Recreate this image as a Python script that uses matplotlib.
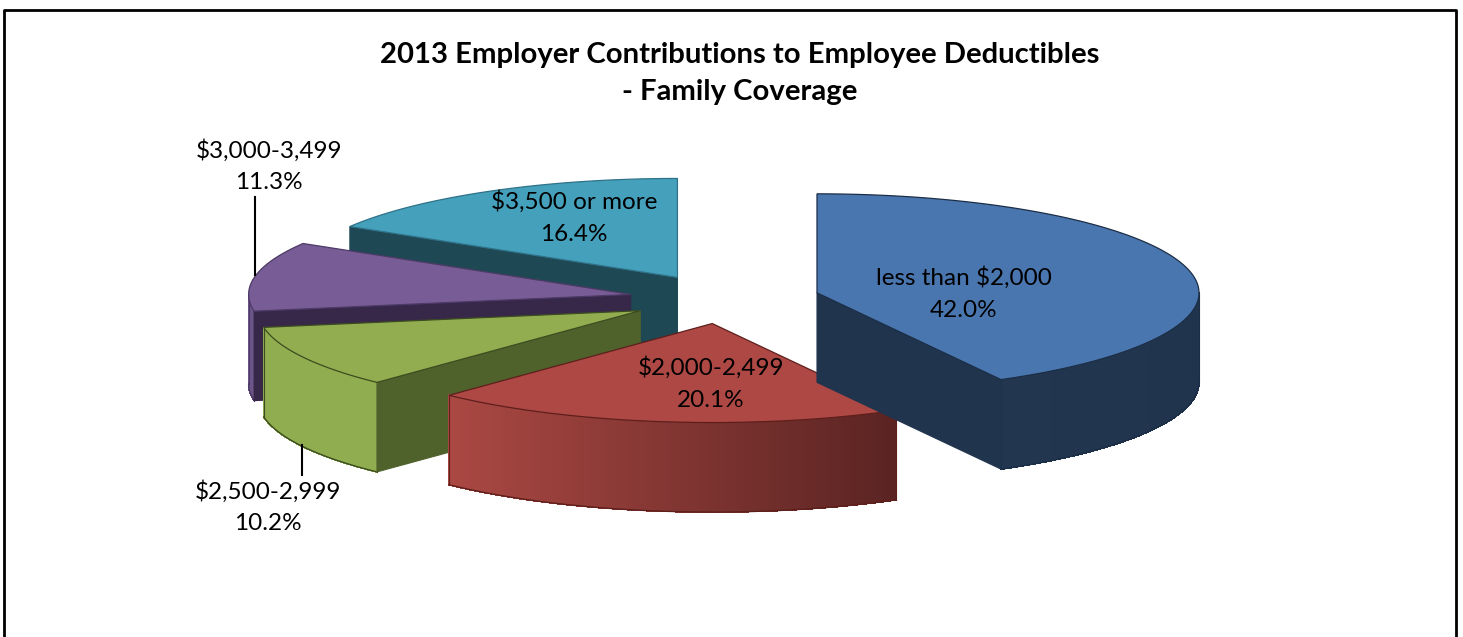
import numpy as np
import matplotlib
matplotlib.use("Agg")
import matplotlib.pyplot as plt
from matplotlib.colors import to_rgb
from matplotlib.patches import Polygon

WIDTH, HEIGHT = 1463, 637

TITLE = "2013 Employer Contributions to Employee Deductibles\n- Family Coverage"
categories = ["less than $2,000", "$2,000-2,499", "$2,500-2,999", "$3,000-3,499", "$3,500 or more"]
shares = [42.0, 20.1, 10.2, 11.3, 16.4]

top_colors = ["#4a76b0", "#ae4844", "#91ad50", "#785c96", "#45a0bc"]
face_colors = ["#20344e", "#5a2422", "#4f622c", "#37284a", "#1f4855"]
# rim colour at start and end of each slice (clockwise)
rim_start = ["#20344e", "#5a2422", "#90ad50", "#6c5589", "#1f4855"]
rim_end = ["#223650", "#ab4843", "#90ad50", "#6c5589", "#1f4855"]
edge_colors = ["#1c2e46", "#5e1f1c", "#3c4c20", "#4d3a66", "#2f7288"]

# pie geometry in pixels
CX, CY = 724.5, 299.0
RX, RY = 382.0, 99.0
DEPTH = 89.5
EXPLODE = 0.25

# label centres in pixels
label_pos = [(964, 293.5), (711, 383.5), (268, 507), (269, 166), (574, 217.5)]
leaders = {2: (302, 445, 475), 3: (255, 197, 275)}


def arc(x0, y0, a0, a1):
    t = np.radians(np.linspace(a0, a1, max(int(abs(a1 - a0)) * 2, 2)))
    return x0 + RX * np.sin(t), y0 - RY * np.cos(t)


def draw_slice(ax, i, a0, a1):
    mid = np.radians((a0 + a1) / 2)
    x0 = CX + EXPLODE * RX * np.sin(mid)
    y0 = CY - EXPLODE * RY * np.cos(mid)
    z = 2
    edge = edge_colors[i]

    # outer rim, only the part turned to the viewer
    lo, hi = max(a0, 90), min(a1, 270)
    if hi > lo:
        xs, ys = arc(x0, y0, lo, hi)
        c0, c1 = np.array(to_rgb(rim_start[i])), np.array(to_rgb(rim_end[i]))
        for k in range(len(xs) - 1):
            # shade runs along the screen x, not along the angle
            f = (xs[0] - xs[k]) / (xs[0] - xs[-1])
            col = c0 + (c1 - c0) * f
            ax.add_patch(Polygon([(xs[k], ys[k]), (xs[k + 1], ys[k + 1]),
                                  (xs[k + 1], ys[k + 1] + DEPTH), (xs[k], ys[k] + DEPTH)],
                                 facecolor=col, edgecolor=col, lw=0.6, antialiased=False, zorder=z))
        ax.plot(xs, ys + DEPTH, color=edge, lw=1.0, zorder=z)
        ax.plot([xs[0], xs[0]], [ys[0], ys[0] + DEPTH], color=edge, lw=0.8, zorder=z)
        ax.plot([xs[-1], xs[-1]], [ys[-1], ys[-1] + DEPTH], color=edge, lw=0.8, zorder=z)

    # cut faces
    for ang in (a0, a1):
        s = np.sin(np.radians(ang))
        visible = s < -1e-6 if ang == a0 else s > 1e-6
        if not visible:
            continue
        xe = x0 + RX * s
        ye = y0 - RY * np.cos(np.radians(ang))
        ax.add_patch(Polygon([(x0, y0), (xe, ye), (xe, ye + DEPTH), (x0, y0 + DEPTH)],
                             facecolor=face_colors[i], edgecolor=face_colors[i], lw=0.8, zorder=z))

    # top
    xs, ys = arc(x0, y0, a0, a1)
    pts = [(x0, y0)] + list(zip(xs, ys))
    ax.add_patch(Polygon(pts, closed=True, facecolor=top_colors[i], edgecolor=edge, lw=0.9, zorder=z))


def main():
    plt.rcParams["font.family"] = ["Lato", "DejaVu Sans"]
    fig = plt.figure(figsize=(WIDTH / 100, HEIGHT / 100), dpi=100)
    ax = fig.add_axes([0, 0, 1, 1])
    ax.set_xlim(0, WIDTH)
    ax.set_ylim(HEIGHT, 0)
    ax.axis("off")

    # chart frame, the bottom side is cut off by the image
    ax.plot([4, 4, 1456, 1456], [HEIGHT + 5, 10, 10, HEIGHT + 5], color="black", lw=2.0, zorder=1)

    ax.text(740, 73.5, TITLE, ha="center", va="center", fontsize=21.1, fontweight="bold",
            linespacing=1.56, color="black", zorder=5)

    edges = np.concatenate([[0], np.cumsum(shares)]) / np.sum(shares) * 360
    # back slices first, the painter's order of the original
    for i in [4, 3, 2, 1, 0]:
        draw_slice(ax, i, edges[i], edges[i + 1])

    for i, (name, val) in enumerate(zip(categories, shares)):
        ax.text(label_pos[i][0], label_pos[i][1], f"{name}\n{val:.1f}%", ha="center", va="center",
                fontsize=17.5, linespacing=1.63, color="black", zorder=6)

    for x, y0, y1 in leaders.values():
        ax.plot([x, x], [y0, y1], color="black", lw=1.5, zorder=6)

    fig.savefig("out.png", dpi=100, facecolor="white")


if __name__ == "__main__":
    main()
